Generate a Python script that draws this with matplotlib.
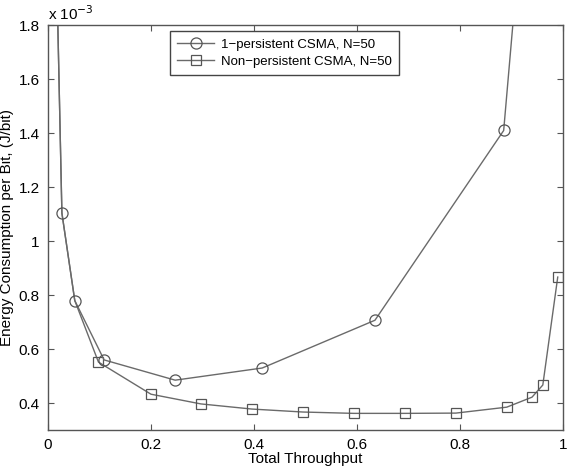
import matplotlib
matplotlib.use("Agg")
import matplotlib.pyplot as plt
import numpy as np

plt.rcParams['font.family'] = ['Liberation Sans', 'DejaVu Sans']

# throughput values
x_p = [0.01, 0.027, 0.052, 0.109, 0.247, 0.416, 0.635, 0.885, 0.93]
y_p = [2.6, 1.104, 0.78, 0.56, 0.485, 0.53, 0.707, 1.41, 2.4]   # x 1e-3 J/bit

x_np = [0.01, 0.027, 0.052, 0.098, 0.2, 0.297, 0.396, 0.495, 0.594, 0.693, 0.792, 0.891, 0.94, 0.961, 0.99]
y_np = [2.6, 1.104, 0.78, 0.552, 0.433, 0.397, 0.378, 0.367, 0.362, 0.362, 0.363, 0.385, 0.422, 0.467, 0.867]

label_p = "1\u2212persistent CSMA, N=50"
label_np = "Non\u2212persistent CSMA, N=50"
xticks = [0, 0.2, 0.4, 0.6, 0.8, 1]
xticklabels = ["0", "0.2", "0.4", "0.6", "0.8", "1"]
yticks = [0.4, 0.6, 0.8, 1.0, 1.2, 1.4, 1.6, 1.8]
yticklabels = ["0.4", "0.6", "0.8", "1", "1.2", "1.4", "1.6", "1.8"]

fig = plt.figure(figsize=(5.68, 4.67), dpi=100)
ax = fig.add_axes([0.0845, 0.079, 0.9065, 0.867])

lc = '#6a6a6a'
ax.plot(x_np, y_np, color=lc, lw=1.0, marker='s', ms=7, mfc='none', mec='#555555', mew=0.9,
        markevery=list(range(3, len(x_np))), label=label_np)
ax.plot(x_p, y_p, color=lc, lw=1.0, marker='o', ms=8, mfc='none', mec='#555555', mew=0.9, label=label_p)

ax.set_xlim(0, 1)
ax.set_ylim(0.3, 1.8)
ax.set_xticks(xticks)
ax.set_xticklabels(xticklabels)
ax.set_yticks(yticks)
ax.set_yticklabels(yticklabels)
ax.tick_params(direction='in', top=True, right=True, labelsize=11, length=4, color='#555555', pad=6)
for s in ax.spines.values():
    s.set_color('#555555')
    s.set_linewidth(1.0)

ax.set_xlabel("Total Throughput", fontsize=11, labelpad=0)
ax.set_ylabel("Energy Consumption per Bit, (J/bit)", fontsize=11, labelpad=3)
ax.text(0.0, 1.005, "x 10$^{-3}$", transform=ax.transAxes, fontsize=11, ha='left', va='bottom')

handles, labels = ax.get_legend_handles_labels()
leg = ax.legend(handles[::-1], labels[::-1], loc='upper left', bbox_to_anchor=(0.237, 0.985),
                borderaxespad=0, fontsize=9.5, fancybox=False,
                framealpha=1, edgecolor='#444444', borderpad=0.55, handlelength=2.8,
                handletextpad=0.5, labelspacing=0.35)
leg.get_frame().set_linewidth(1.0)

fig.savefig("out.png", dpi=100)
